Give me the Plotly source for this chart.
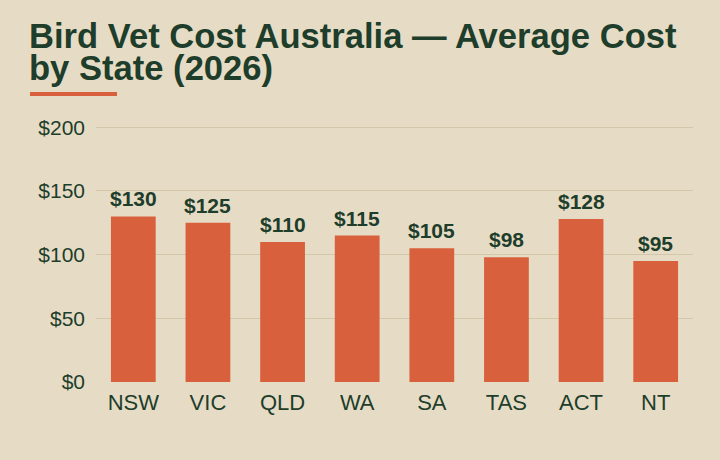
import plotly.graph_objects as go

# Chart data
states = ["NSW", "VIC", "QLD", "WA", "SA", "TAS", "ACT", "NT"]
avg_cost = [130, 125, 110, 115, 105, 98, 128, 95]
cost_labels = ["$130", "$125", "$110", "$115", "$105", "$98", "$128", "$95"]
y_ticks = [0, 50, 100, 150, 200]
y_tick_labels = ["$0", "$50", "$100", "$150", "$200"]

title_line1 = "Bird Vet Cost Australia \u2014 Average Cost"
title_line2 = "by State (2026)"

bg = "#e6dcc5"
dark_green = "#1e3d2b"
bar_color = "#d9603d"
grid_color = "#d2c7aa"

fig = go.Figure()

fig.add_trace(
    go.Bar(
        x=states,
        y=avg_cost,
        marker=dict(color=bar_color, line=dict(width=0)),
        width=0.6,
        hoverinfo="skip",
    )
)

# value labels above each bar
value_labels = [
    dict(
        x=s, y=v, text="<b>" + t + "</b>",
        xref="x", yref="y",
        xanchor="center", yanchor="bottom",
        yshift=4,
        showarrow=False,
        font=dict(family="Liberation Sans", size=21, color=dark_green),
    )
    for s, v, t in zip(states, avg_cost, cost_labels)
]

title_notes = [
    dict(
        text="<b>" + title_line1 + "</b>",
        xref="paper", yref="paper",
        x=-0.1156, y=1.269,
        xanchor="left", yanchor="bottom",
        showarrow=False,
        font=dict(family="Liberation Sans", size=34.6, color=dark_green),
    ),
    dict(
        text="<b>" + title_line2 + "</b>",
        xref="paper", yref="paper",
        x=-0.1156, y=1.144,
        xanchor="left", yanchor="bottom",
        showarrow=False,
        font=dict(family="Liberation Sans", size=34.6, color=dark_green),
    ),
]

fig.update_layout(
    width=720,
    height=460,
    paper_bgcolor=bg,
    plot_bgcolor=bg,
    margin=dict(l=96, r=27, t=126, b=78),
    showlegend=False,
    font=dict(family="Liberation Sans", color=dark_green),
    xaxis=dict(
        showgrid=False,
        showline=False,
        zeroline=False,
        ticks="",
        ticklabelstandoff=5,
        tickfont=dict(size=22, color=dark_green),
        fixedrange=True,
    ),
    yaxis=dict(
        range=[0, 201],
        tickvals=y_ticks,
        ticktext=y_tick_labels,
        showgrid=True,
        gridcolor=grid_color,
        gridwidth=1,
        zeroline=False,
        showline=False,
        ticks="",
        ticklabelstandoff=10,
        tickfont=dict(size=21, color=dark_green),
        fixedrange=True,
    ),
    annotations=value_labels + title_notes,
    shapes=[
        dict(
            type="rect",
            xref="paper", yref="paper",
            x0=-0.1106, x1=0.0352,
            y0=1.1176, y1=1.1333,
            fillcolor=bar_color,
            line=dict(width=0),
        )
    ],
)

fig.write_html(
    "out.html",
    config={"displayModeBar": False},
    post_script="document.body.style.margin='0';",
)
